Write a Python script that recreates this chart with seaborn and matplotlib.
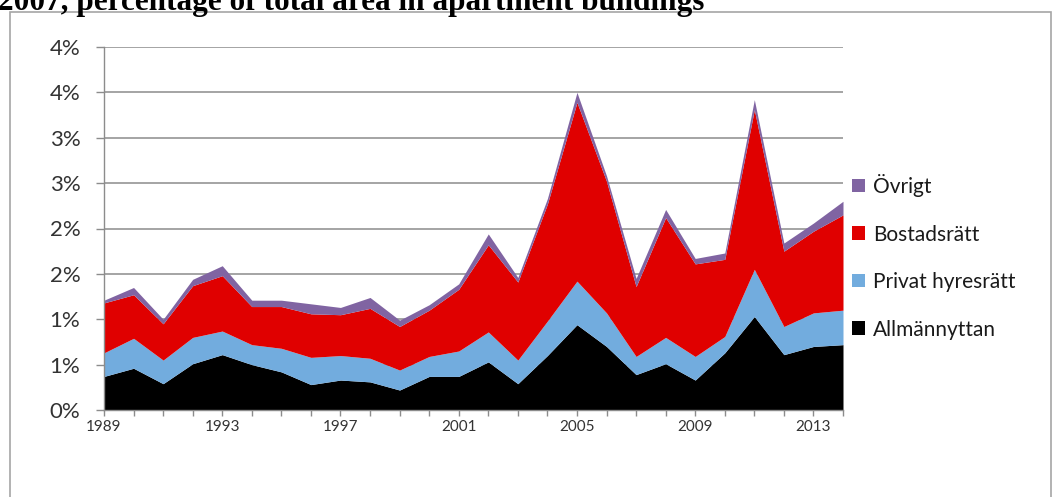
import matplotlib
matplotlib.use("Agg")
import matplotlib.pyplot as plt
from matplotlib.patches import Rectangle
import seaborn as sns

years = list(range(1989, 2015))
allmannyttan = [0.37, 0.46, 0.29, 0.51, 0.61, 0.50, 0.42, 0.28, 0.33, 0.31, 0.22, 0.37, 0.37,
                0.53, 0.29, 0.60, 0.94, 0.70, 0.39, 0.51, 0.33, 0.63, 1.03, 0.61, 0.70, 0.72]
privat = [0.26, 0.33, 0.26, 0.29, 0.26, 0.22, 0.26, 0.30, 0.27, 0.26, 0.22, 0.22, 0.28,
          0.33, 0.26, 0.38, 0.48, 0.37, 0.20, 0.29, 0.26, 0.18, 0.52, 0.31, 0.37, 0.38]
bostadsratt = [0.55, 0.48, 0.40, 0.57, 0.61, 0.42, 0.46, 0.48, 0.45, 0.55, 0.48, 0.51, 0.68,
               0.96, 0.86, 1.29, 1.97, 1.45, 0.77, 1.32, 1.02, 0.85, 1.76, 0.83, 0.90, 1.05]
ovrigt = [0.03, 0.08, 0.05, 0.07, 0.11, 0.07, 0.07, 0.11, 0.08, 0.12, 0.07, 0.06, 0.06,
          0.12, 0.05, 0.06, 0.11, 0.06, 0.09, 0.09, 0.06, 0.07, 0.11, 0.09, 0.09, 0.15]
series_names = ["Allmännyttan", "Privat hyresrätt", "Bostadsrätt", "Övrigt"]
y_ticks = [0, 0.5, 1.0, 1.5, 2.0, 2.5, 3.0, 3.5, 4.0]
y_tick_labels = ["0%", "1%", "1%", "2%", "2%", "3%", "3%", "4%", "4%"]
x_label_years = [1989, 1993, 1997, 2001, 2005, 2009, 2013]
title = "2007, percentage of total area in apartment buildings"

sns.set_theme(style="white")
plt.rcParams["font.family"] = ["Lato", "DejaVu Sans"]

colors = sns.color_palette(["#000000", "#72ACDE", "#E00000", "#8064A2"])

W, H = 1054, 497
fig = plt.figure(figsize=(W / 100, H / 100), dpi=100)
ax = fig.add_axes([104 / W, 87 / H, (843 - 104) / W, (410 - 47) / H])

polys = ax.stackplot(years, allmannyttan, privat, bostadsratt, ovrigt,
                     colors=colors, labels=series_names, linewidth=0)

ax.set_xlim(1989, 2014)
ax.set_ylim(0, 4.0)
ax.set_yticks(y_ticks)
ax.set_yticklabels(y_tick_labels)
ax.set_xticks(years, minor=False)
ax.set_xticklabels([str(y) if y in x_label_years else "" for y in years])

ax.set_axisbelow(True)
ax.yaxis.grid(True, color="#8C8C8C", linewidth=1.1)
ax.xaxis.grid(False)
for s in ["top", "right"]:
    ax.spines[s].set_visible(False)
for s in ["left", "bottom"]:
    ax.spines[s].set_color("#8C8C8C")
    ax.spines[s].set_linewidth(1.0)

ax.tick_params(axis="y", which="major", left=True, length=6, width=1, color="#8C8C8C",
               labelsize=16, labelcolor="#333333", pad=11)
ax.tick_params(axis="x", which="major", bottom=True, length=4.5, width=1, color="#8C8C8C",
               labelsize=11, labelcolor="#333333", pad=3)

handles, labels = ax.get_legend_handles_labels()
ax.legend(handles[::-1], labels[::-1], loc="upper left",
          bbox_to_anchor=(852 / W, 1 - 174 / H), bbox_transform=fig.transFigure,
          frameon=False, fontsize=15, handlelength=0.62, handleheight=0.62,
          handletextpad=0.38, labelspacing=1.32, borderaxespad=0, borderpad=0,
          labelcolor="#1A1A1A")

fig.text(-2 / W, 1 - 10 / H, title, fontsize=22.5, fontweight="bold",
         family=["Liberation Serif", "DejaVu Serif"], va="baseline", ha="left", color="black")

fig.add_artist(Rectangle((10 / W, -0.02), (1051 - 10) / W, 1 - 12 / H + 0.02,
                         transform=fig.transFigure, fill=False, edgecolor="#A6A6A6",
                         linewidth=1.2))

fig.savefig("out.png", dpi=100, facecolor="white")
